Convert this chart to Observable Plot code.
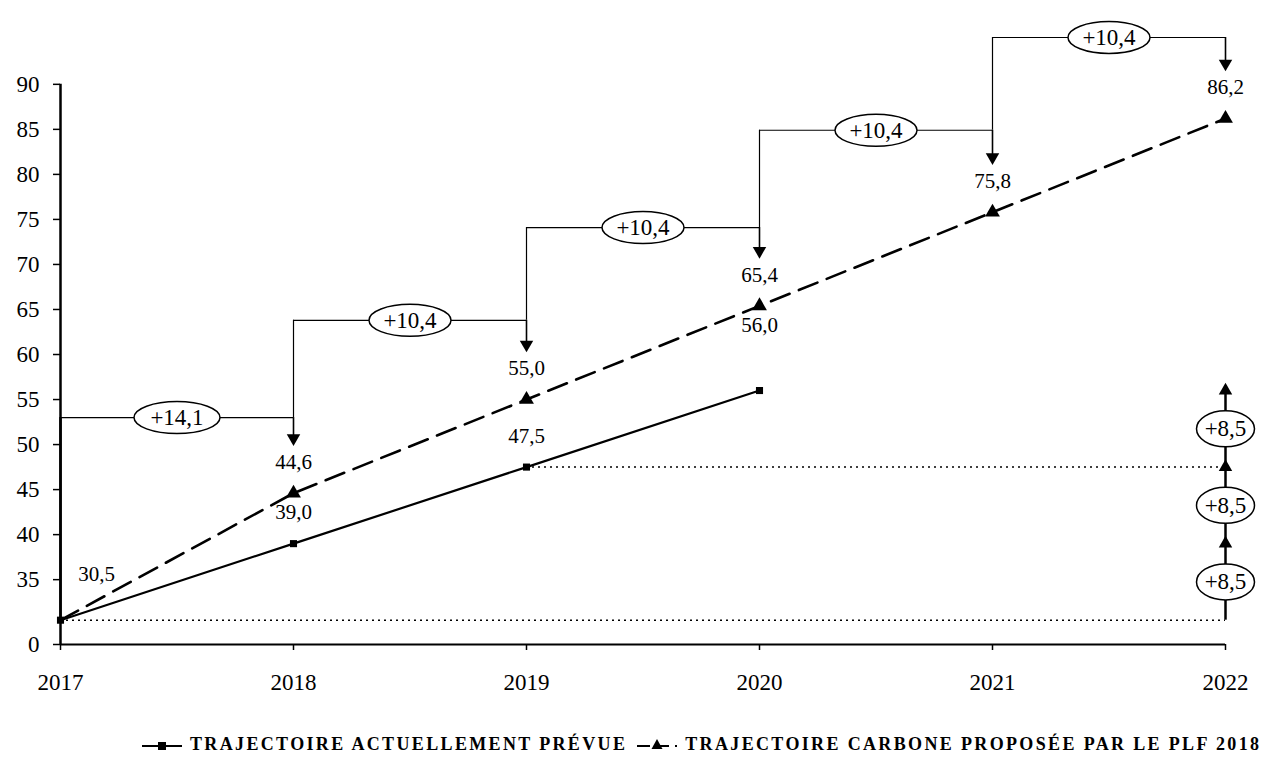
<!DOCTYPE html>
<html><head><meta charset="utf-8">
<script src="https://cdn.jsdelivr.net/npm/d3@7"></script>
<script src="https://cdn.jsdelivr.net/npm/@observablehq/plot@0.6"></script>
<style>
html,body{margin:0;padding:0;background:#fff;}
#wrap{position:relative;width:1265px;height:760px;font-family:"Liberation Serif",serif;color:#000;}
#legend{position:absolute;left:142px;top:734px;display:flex;align-items:center;font-family:"Liberation Serif",serif;font-weight:bold;font-size:18px;letter-spacing:2.35px;white-space:nowrap;}
#legend .item{display:flex;align-items:center;margin-right:10px;}
#legend svg{margin-right:8px;}
</style></head>
<body><div id="wrap"><div id="chart"></div><div id="legend"></div></div>
<script>
// ---- data ----
const years = [2017, 2018, 2019, 2020, 2021, 2022];
const actualYears = [2017, 2018, 2019, 2020];
const actualValues = [30.5, 39.0, 47.5, 56.0];
const carbonValues = [30.5, 44.6, 55.0, 65.4, 75.8, 86.2];
const stepLevels = [53.0, 63.8, 74.1, 84.9, 95.2];
const stepLabels = ["+14,1", "+10,4", "+10,4", "+10,4", "+10,4"];
const gapLabels = ["+8,5", "+8,5", "+8,5"];
const yBreakValue = 27.8;               // where the broken axis shows "0"
const yTickValues = [yBreakValue, 35, 40, 45, 50, 55, 60, 65, 70, 75, 80, 85, 90];
const yTickLabels = ["0", "35", "40", "45", "50", "55", "60", "65", "70", "75", "80", "85", "90"];
const seriesNames = ["TRAJECTOIRE ACTUELLEMENT PRÉVUE", "TRAJECTOIRE CARBONE PROPOSÉE PAR LE PLF 2018"];

// ---- derived tables ----
const fmt = v => d3.format(".1f")(v).replace(".", ",");
const actual = actualYears.map((y, i) => ({year: y, value: actualValues[i]}));
const carbon = years.map((y, i) => ({year: y, value: carbonValues[i]}));
const steps = stepLevels.map((lv, i) => ({
  x0: years[i], x1: years[i + 1], level: lv, label: stepLabels[i],
  prev: i === 0 ? carbonValues[0] : stepLevels[i - 1],
  target: carbonValues[i + 1]
}));
const gaps = gapLabels.map((lab, i) => ({
  year: years[years.length - 1], lo: actualValues[i], hi: actualValues[i + 1], label: lab
}));
const tickLabelMap = new Map(yTickValues.map((v, i) => [v, yTickLabels[i]]));

function ellipseSymbol(rx, ry) {
  const k = 0.5523;
  return {draw(ctx) {
    ctx.moveTo(rx, 0);
    ctx.bezierCurveTo(rx, k * ry, k * rx, ry, 0, ry);
    ctx.bezierCurveTo(-k * rx, ry, -rx, k * ry, -rx, 0);
    ctx.bezierCurveTo(-rx, -k * ry, -k * rx, -ry, 0, -ry);
    ctx.bezierCurveTo(k * rx, -ry, rx, -k * ry, rx, 0);
    ctx.closePath();
  }};
}
const wideEllipse = ellipseSymbol(41, 16);
const firstEllipse = ellipseSymbol(43, 16);
const smallEllipse = ellipseSymbol(29, 18);
const mid = d => (d.x0 + d.x1) / 2;

const chart = Plot.plot({
  width: 1265, height: 720,
  marginLeft: 60, marginRight: 40, marginTop: 37, marginBottom: 76,
  style: {fontFamily: "Liberation Serif, serif", fontSize: "20px", color: "#000", background: "#fff"},
  x: {domain: [2017, 2022]},
  y: {domain: [yBreakValue, 95.2]},
  marks: [
    // axes
    Plot.axisX({ticks: years, tickFormat: d => String(d), tickSize: 6, tickPadding: 23, fontSize: 23, letterSpacing: 1, strokeWidth: 1.5}),
    Plot.axisY({ticks: yTickValues, tickFormat: d => tickLabelMap.get(d), tickSize: 7, tickPadding: 14, fontSize: 23, letterSpacing: 1, strokeWidth: 1.5}),
    Plot.ruleY([yBreakValue], {x1: 2017, x2: 2022, strokeWidth: 2}),
    Plot.ruleX([2017], {y1: yBreakValue, y2: 90, strokeWidth: 2.5}),
    // dotted reference lines
    Plot.ruleY([actual[0]], {y: "value", x1: 2017, x2: 2022, strokeDasharray: "2,4", strokeWidth: 1.5}),
    Plot.ruleY([actual[2]], {y: "value", x1: d => d.year, x2: 2022, strokeDasharray: "2,4", strokeWidth: 1.5}),
    // step brackets
    Plot.ruleY(steps, {y: "level", x1: "x0", x2: "x1", strokeWidth: 1.2}),
    Plot.ruleX(steps, {x: "x0", y1: "level", y2: "prev", strokeWidth: (d, i) => i === 0 ? 2.5 : 1.2}),
    Plot.ruleX(steps, {x: "x1", y1: "level", y2: "target", insetBottom: 54, strokeWidth: 1.6}),
    Plot.dot(steps, {x: "x1", y: "target", dy: -55, symbol: "triangle", r: 5, rotate: 180, fill: "black", stroke: "none"}),
    Plot.dot(steps.slice(0, 1), {x: mid, y: "level", symbol: firstEllipse, fill: "white", stroke: "black", strokeWidth: 1.5}),
    Plot.dot(steps.slice(1), {x: mid, y: "level", symbol: wideEllipse, fill: "white", stroke: "black", strokeWidth: 1.5}),
    Plot.text(steps, {x: mid, y: "level", text: "label", fontSize: 23}),
    // right-side increments
    Plot.ruleX(gaps, {x: "year", y1: "lo", y2: "hi", strokeWidth: 2.5}),
    Plot.dot(gaps, {x: "year", y: "hi", symbol: "triangle", r: 5, fill: "black", stroke: "none"}),
    Plot.dot(gaps, {x: "year", y: d => (d.lo + d.hi) / 2, symbol: smallEllipse, fill: "white", stroke: "black", strokeWidth: 1.5}),
    Plot.text(gaps, {x: "year", y: d => (d.lo + d.hi) / 2, text: "label", fontSize: 23}),
    // series
    Plot.line(actual, {x: "year", y: "value", stroke: "black", strokeWidth: 2.2}),
    Plot.line(carbon, {x: "year", y: "value", stroke: "black", strokeWidth: 2.6, strokeDasharray: "20,10"}),
    Plot.dot(actual, {x: "year", y: "value", symbol: "square", r: 4, fill: "black", stroke: "none"}),
    Plot.dot(carbon.slice(1), {x: "year", y: "value", symbol: "triangle", r: 5.5, fill: "black", stroke: "none"}),
    // value labels
    Plot.text(carbon.slice(1), {x: "year", y: "value", text: d => fmt(d.value), dy: -31, fontSize: 21}),
    Plot.text(actual.slice(1, 3), {x: "year", y: "value", text: d => fmt(d.value), dy: -31, fontSize: 21}),
    Plot.text(actual.slice(3), {x: "year", y: "value", text: d => fmt(d.value), dy: -65, fontSize: 21}),
    Plot.text(actual.slice(0, 1), {x: "year", y: "value", text: d => fmt(d.value), dx: 36, dy: -46, fontSize: 21})
  ]
});
document.getElementById("chart").appendChild(chart);

// legend
const legend = document.getElementById("legend");
const sym = [
  '<svg width="40" height="16"><line x1="0" y1="9" x2="40" y2="9" stroke="black" stroke-width="2.2"/><rect x="16" y="5" width="8" height="8" fill="black"/></svg>',
  '<svg width="40" height="16"><line x1="0" y1="9" x2="40" y2="9" stroke="black" stroke-width="2.2" stroke-dasharray="13,6"/><path d="M20,2 L25.5,12 L14.5,12 Z" fill="black"/></svg>'
];
seriesNames.forEach((n, i) => {
  const d = document.createElement("div");
  d.className = "item";
  d.innerHTML = sym[i] + "<span>" + n + "</span>";
  legend.appendChild(d);
});
</script>
</body></html>
